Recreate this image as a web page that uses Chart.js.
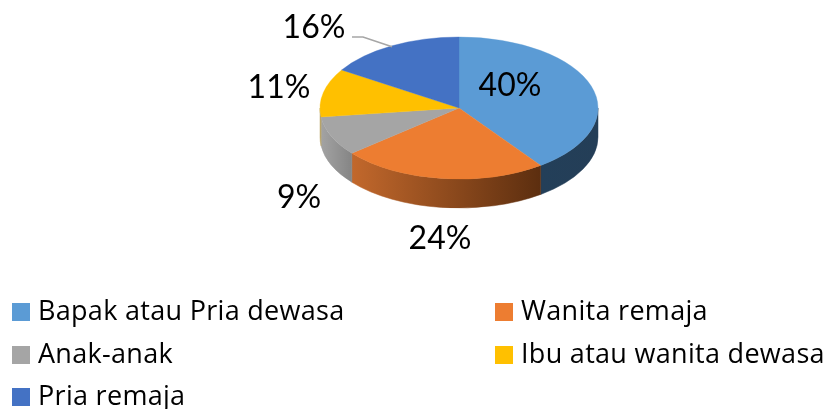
<!DOCTYPE html>
<html>
<head>
<meta charset="utf-8">
<style>html,body{margin:0;padding:0;background:#fff;overflow:hidden}canvas{display:block}</style>
<script src="https://cdn.jsdelivr.net/npm/chart.js@4"></script>
</head>
<body>
<canvas id="c" width="828" height="409"></canvas>
<script>
const categories = ["Bapak atau Pria dewasa", "Wanita remaja", "Anak-anak", "Ibu atau wanita dewasa", "Pria remaja"];
const values = [40, 24, 9, 11, 16];
const colors = ["#5b9bd5", "#ed7d31", "#a5a5a5", "#ffc000", "#4472c4"];
const wallLeft = ["#233f59", "#c2682c", "#a3a3a3", "#b8a468", "#2f4f88"];
const wallRight = ["#243e57", "#5c2e0f", "#858585", "#b8a468", "#2f4f88"];

const TILT = 71 / 139, DEPTH = 29, CENTER_Y = 108, RADIUS = 139;
const labelPos = [[510, 86], [440, 239], [299, 198], [279, 88], [314, 28]];
const legendPos = [[12, 320], [495, 320], [12, 363], [495, 363], [12, 405]];
const LABEL_FONT = '32px Lato, Carlito, sans-serif';
const LEGEND_FONT = '27px "Open Sans", sans-serif';

const pie3d = {
  id: 'pie3d',
  beforeDatasetsDraw(chart) {
    const ctx = chart.ctx, arcs = chart.getDatasetMeta(0).data;
    arcs.forEach((arc, i) => {
      const a = Math.max(arc.startAngle, 0), b = Math.min(arc.endAngle, Math.PI);
      if (b <= a) return;
      const rx = arc.outerRadius, ry = rx * TILT;
      const x0 = arc.x + rx * Math.cos(b), x1 = arc.x + rx * Math.cos(a);
      const g = ctx.createLinearGradient(x0, 0, x1, 0);
      g.addColorStop(0, wallLeft[i]); g.addColorStop(1, wallRight[i]);
      ctx.beginPath();
      ctx.ellipse(arc.x, CENTER_Y, rx, ry, 0, a, b);
      ctx.ellipse(arc.x, CENTER_Y + DEPTH, rx, ry, 0, b, a, true);
      ctx.closePath();
      ctx.fillStyle = g;
      ctx.strokeStyle = g;
      ctx.lineWidth = 0.5;
      ctx.fill();
      ctx.stroke();
    });
    ctx.save();
    ctx.translate(0, CENTER_Y);
    ctx.scale(1, TILT);
    ctx.translate(0, -arcs[0].y);
  },
  afterDatasetsDraw(chart) {
    chart.ctx.restore();
  },
  afterDraw(chart) {
    const ctx = chart.ctx, arcs = chart.getDatasetMeta(0).data;
    // leader line for the last slice
    const last = arcs[arcs.length - 1];
    const mid = (last.startAngle + last.endAngle) / 2;
    const ex = last.x + last.outerRadius * Math.cos(mid);
    const ey = CENTER_Y + last.outerRadius * TILT * Math.sin(mid);
    const lp = labelPos[labelPos.length - 1];
    ctx.beginPath();
    ctx.moveTo(lp[0] + 38, lp[1] + 9);
    ctx.lineTo(lp[0] + 49, lp[1] + 9);
    ctx.lineTo(ex, ey + 1);
    ctx.strokeStyle = '#a6a6a6';
    ctx.lineWidth = 1.6;
    ctx.stroke();

    ctx.fillStyle = '#000';
    ctx.font = LABEL_FONT;
    ctx.textAlign = 'center';
    ctx.textBaseline = 'middle';
    values.forEach((v, i) => ctx.fillText(v + '%', labelPos[i][0], labelPos[i][1]));

    ctx.font = LEGEND_FONT;
    ctx.letterSpacing = '0.3px';
    ctx.textAlign = 'left';
    ctx.textBaseline = 'alphabetic';
    categories.forEach((c, i) => {
      const [x, y] = legendPos[i];
      ctx.fillStyle = colors[i];
      ctx.fillRect(x, y - 17, 18, 18);
      ctx.fillStyle = '#000';
      ctx.fillText(c, x + 26, y);
    });
    ctx.letterSpacing = '0px';
  }
};

new Chart(document.getElementById('c'), {
  type: 'pie',
  data: {
    labels: categories,
    datasets: [{
      data: values,
      backgroundColor: colors,
      borderColor: colors,
      borderWidth: 0.5,
      radius: RADIUS
    }]
  },
  plugins: [pie3d],
  options: {
    responsive: false,
    animation: false,
    layout: { padding: { left: 320, right: 230, top: 60, bottom: 60 } },
    plugins: { legend: { display: false }, tooltip: { enabled: false } }
  }
});
</script>
</body>
</html>
